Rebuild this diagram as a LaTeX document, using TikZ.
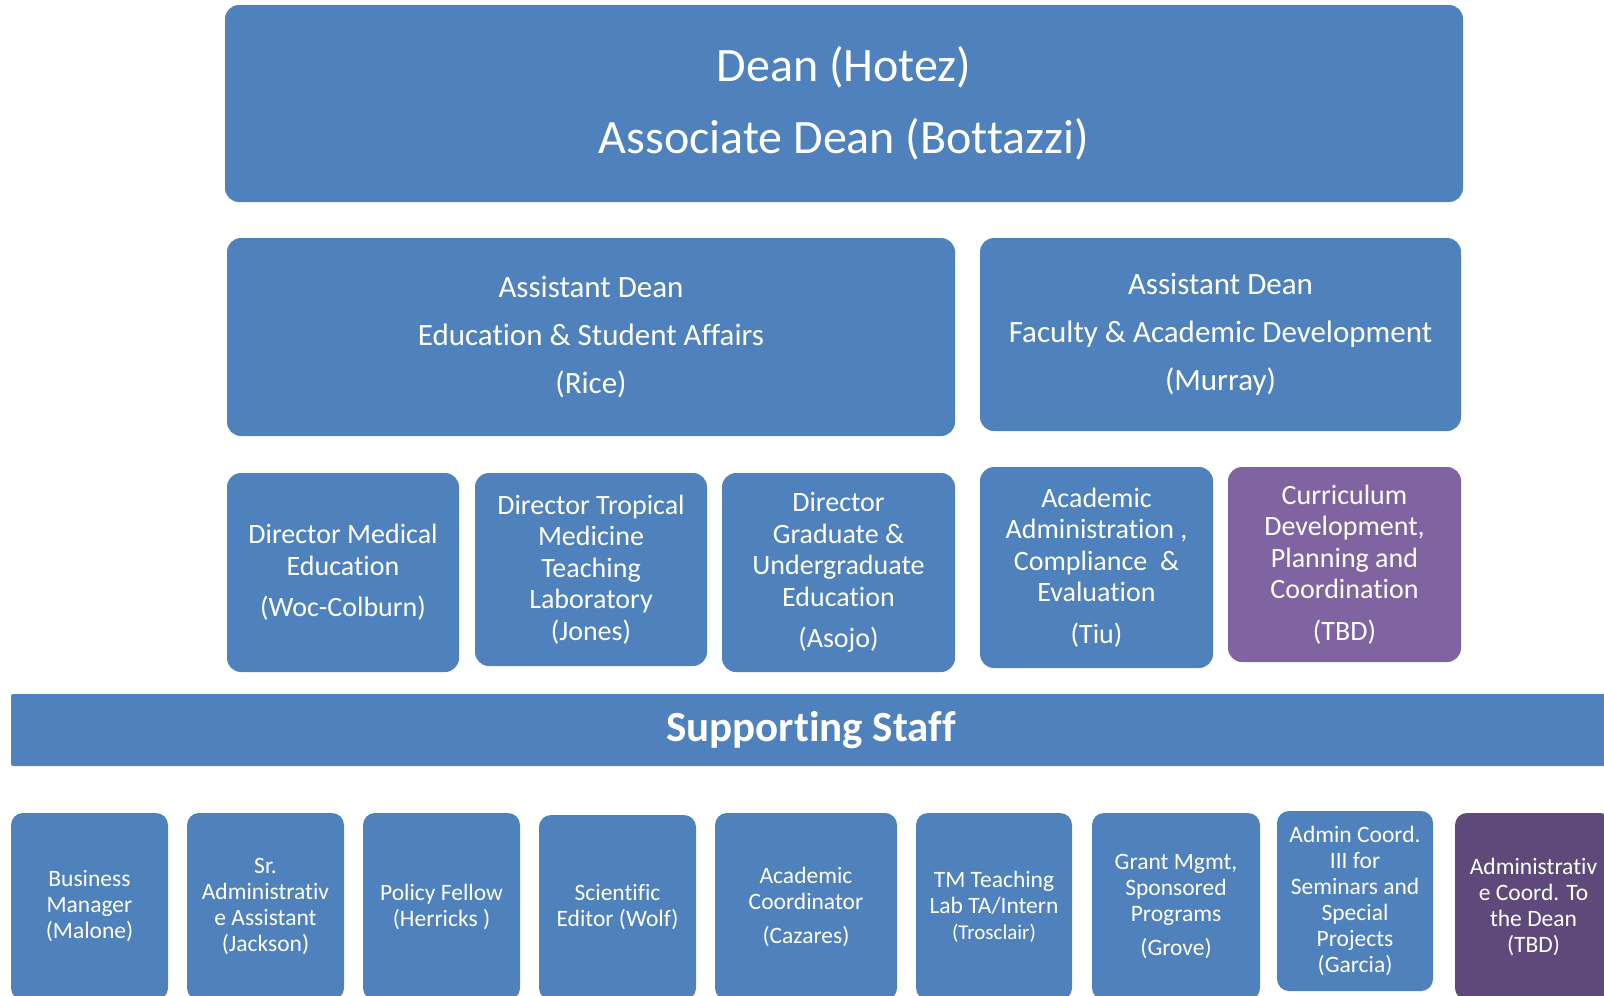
\documentclass[tikz,border=0pt]{standalone}
\usepackage{fontspec}
\setmainfont[Ligatures=NoCommon]{Carlito}
\definecolor{deanblue}{HTML}{4F81BD}
\definecolor{tbdpurple}{HTML}{8064A2}
\definecolor{darkpurple}{HTML}{5F497A}

\begin{document}
\begin{tikzpicture}[x=1pt, y=-1pt,
    orgbox/.style={rectangle, rounded corners=14pt, fill=deanblue, text=white, align=center, anchor=north west, inner sep=0pt, outer sep=0pt},
    topfont/.style={font=\fontsize{48}{72}\selectfont},
    deanfont/.style={font=\fontsize{31}{48}\selectfont},
    dirfont/.style={font=\fontsize{28}{31.5}\selectfont},
    stafffont/.style={font=\fontsize{23.5}{26}\selectfont}]

    \useasboundingbox (0,0) rectangle (1604,996);
    \clip (0,0) rectangle (1604,996);

    %Place dean node
    \node[orgbox, topfont, minimum width=1238pt, minimum height=197pt] (dean) at (225,5) {Dean (Hotez)\\Associate Dean (Bottazzi)};

    %Place assistant dean nodes
    \node[orgbox, deanfont, minimum width=728pt, minimum height=198pt] (edu-dean) at (227,238) {Assistant Dean\\Education \& Student Affairs\\(Rice)};
    \node[orgbox, deanfont, minimum width=481pt, minimum height=193pt] (fac-dean) at (980,238) {Assistant Dean\\Faculty \& Academic Development\\(Murray)};

    %Place director nodes
    \node[orgbox, dirfont, minimum width=232pt, minimum height=199pt] (med-edu) at (227,473) {Director Medical\\Education\\[10pt](Woc-Colburn)};
    \node[orgbox, dirfont, minimum width=232pt, minimum height=193pt] (trop-lab) at (475,473) {Director Tropical\\Medicine\\Teaching\\Laboratory\\(Jones)};
    \node[orgbox, dirfont, minimum width=233pt, minimum height=199pt] (grad-edu) at (722,473) {Director\\Graduate \&\\Undergraduate\\Education\\[10pt](Asojo)};
    \node[orgbox, dirfont, minimum width=233pt, minimum height=201pt] (acad-admin) at (980,467) {Academic\\Administration ,\\Compliance~ \&\\Evaluation\\[10pt](Tiu)};
    \node[orgbox, dirfont, fill=tbdpurple, minimum width=233pt, minimum height=195pt] (curriculum) at (1228,467) {Curriculum\\Development,\\Planning and\\Coordination\\[10pt](TBD)};

    %Place supporting staff node
    \node[orgbox, rounded corners=2pt, font=\fontsize{43}{48}\selectfont\bfseries, minimum width=1600pt, minimum height=72pt] (support) at (11,694) {Supporting Staff};

    %Place staff nodes
    \node[orgbox, stafffont, rounded corners=12pt, minimum width=157pt, minimum height=187pt] (malone) at (11,813) {Business\\Manager\\(Malone)};
    \node[orgbox, stafffont, rounded corners=12pt, minimum width=157pt, minimum height=187pt] (jackson) at (187,813) {Sr.\\Administrativ\\e Assistant\\(Jackson)};
    \node[orgbox, stafffont, rounded corners=12pt, minimum width=157pt, minimum height=187pt] (herricks) at (363,813) {Policy Fellow\\(Herricks )};
    \node[orgbox, stafffont, rounded corners=12pt, minimum width=157pt, minimum height=185pt] (wolf) at (539,815) {Scientific\\Editor (Wolf)};
    \node[orgbox, stafffont, rounded corners=12pt, minimum width=182pt, minimum height=187pt] (cazares) at (715,813) {Academic\\Coordinator\\[8pt](Cazares)};
    \node[orgbox, stafffont, rounded corners=12pt, minimum width=156pt, minimum height=187pt] (trosclair) at (916,813) {TM Teaching\\Lab TA/Intern\\{\fontsize{21}{24}\selectfont(Trosclair)}};
    \node[orgbox, stafffont, rounded corners=12pt, minimum width=168pt, minimum height=187pt] (grove) at (1092,813) {Grant Mgmt,\\Sponsored\\Programs\\[8pt](Grove)};
    \node[orgbox, stafffont, rounded corners=12pt, minimum width=156pt, minimum height=180pt] (garcia) at (1277,811) {Admin Coord.\\III for\\Seminars and\\Special\\Projects\\(Garcia)};
    \node[orgbox, stafffont, rounded corners=12pt, fill=darkpurple, minimum width=157pt, minimum height=187pt] (coord-dean) at (1455,813) {Administrativ\\e Coord. To\\the Dean\\(TBD)};
\end{tikzpicture}
\end{document}
